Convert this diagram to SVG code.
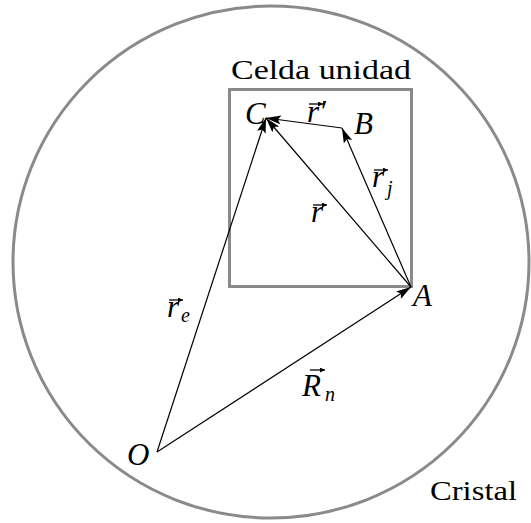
<svg xmlns="http://www.w3.org/2000/svg" width="531" height="523" viewBox="0 0 531 523">
<style>
.gray{fill:none;stroke:#8a8a8a;stroke-width:3}
.vec{stroke:#000;stroke-width:1.2;fill:none;marker-end:url(#ah)}
.acc{stroke:#000;stroke-width:1.3;fill:none;marker-end:url(#ah2)}
text{font-family:'Liberation Serif','DejaVu Serif',serif;fill:#000}
.rm{font-size:28px}
.it{font-style:italic;font-size:31px}
.sub{font-style:italic;font-size:20px}
</style>
<defs>
<marker id="ah" markerUnits="userSpaceOnUse" markerWidth="16" markerHeight="10" refX="15" refY="4.5" orient="auto">
<path d="M0,0 L15,4.5 L0,9 L3,4.5 Z" fill="#000"/>
</marker>
<marker id="ah2" markerUnits="userSpaceOnUse" markerWidth="6" markerHeight="6" refX="5" refY="2.5" orient="auto">
<path d="M0,0 L5,2.5 L0,5 Z" fill="#000"/>
</marker>
</defs>
<g id="crystal">
<ellipse class="gray" cx="271" cy="262" rx="258" ry="256"/>
<text class="rm" x="430" y="500" textLength="87" lengthAdjust="spacingAndGlyphs">Cristal</text>
</g>
<g id="cell">
<rect class="gray" x="229.5" y="89.5" width="182" height="197"/>
<text class="rm" x="231" y="79" textLength="180" lengthAdjust="spacingAndGlyphs">Celda unidad</text>
</g>
<g id="connectors">
<line class="vec" x1="157" y1="452" x2="411" y2="287"/>
<line class="vec" x1="157" y1="452" x2="266" y2="118"/>
<line class="vec" x1="411" y1="287" x2="266" y2="118"/>
<line class="vec" x1="411" y1="287" x2="342" y2="128"/>
<line class="vec" x1="342" y1="128" x2="266" y2="118"/>
</g>
<g id="O"><text class="it" x="127" y="465">O</text></g>
<g id="A"><text class="it" x="413" y="306">A</text></g>
<g id="B"><text class="it" x="354" y="134">B</text></g>
<g id="C"><text class="it" x="245" y="124">C</text></g>
<g id="labels">
<text class="it" x="307" y="122">r′</text>
<path class="acc" d="M309,104 H323"/>
<text class="it" x="372" y="187">r</text><text class="sub" x="387" y="195">j</text>
<path class="acc" d="M374,170 H388"/>
<text class="it" x="311" y="222">r</text>
<path class="acc" d="M313,205 H327"/>
<text class="it" x="167" y="317">r</text><text class="sub" x="181" y="322">e</text>
<path class="acc" d="M169,300 H183"/>
<text class="it" x="302" y="396" font-size="33">R</text><text class="sub" x="325" y="401">n</text>
<path class="acc" d="M310,370 H325"/>
</g>
</svg>
